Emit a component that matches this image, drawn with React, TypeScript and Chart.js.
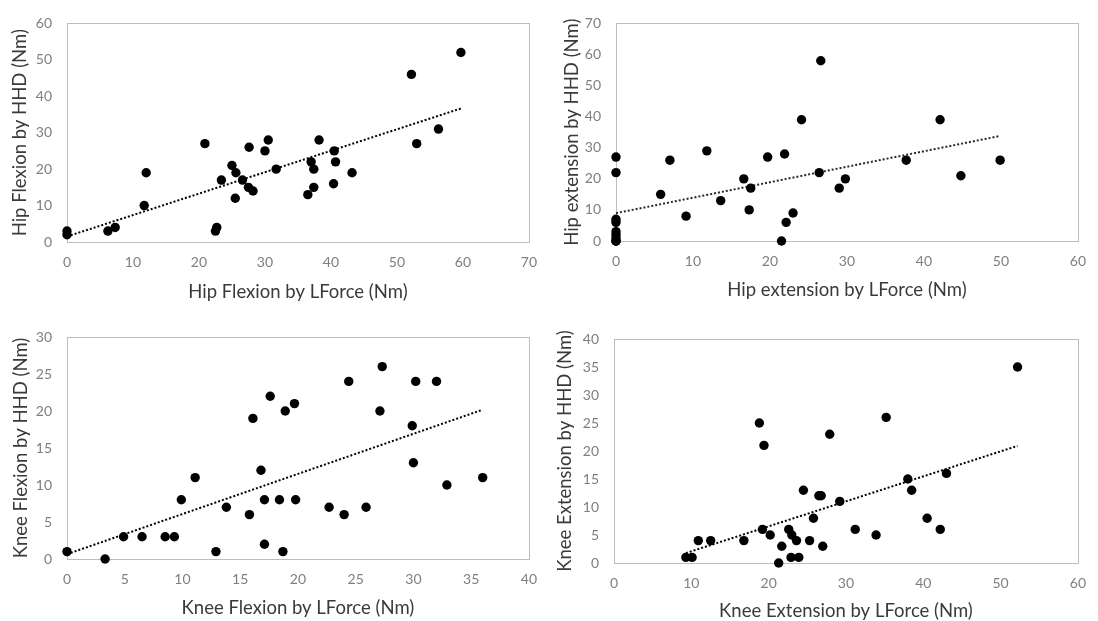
import React, { useEffect, useRef } from 'react';
import { Chart, registerables } from 'chart.js';
Chart.register(...registerables);

const FONT = 'Lato, "Open Sans", sans-serif';

// ---- Data ----
const hipFlexLForce = [0, 0, 6.2, 7.3, 11.7, 12, 20.9, 22.5, 22.7, 23.4, 25, 25.6, 25.5, 26.6, 27.6, 27.5, 28.2, 30, 30.5, 31.7, 38.2, 40.5, 40.7, 37, 37.4, 37.4, 36.5, 40.4, 43.2, 52.2, 59.7, 56.3, 53];
const hipFlexHHD = [3, 2, 3, 4, 10, 19, 27, 3, 4, 17, 21, 19, 12, 17, 26, 15, 14, 25, 28, 20, 28, 25, 22, 22, 20, 15, 13, 16, 19, 46, 52, 31, 27];

const hipExtLForce = [0, 0, 0, 0, 0, 0, 0, 0, 0, 0, 5.8, 7, 9.1, 11.8, 13.6, 16.6, 17.5, 17.3, 19.7, 21.9, 21.5, 22.1, 23, 24.1, 26.4, 26.6, 29, 29.8, 37.7, 42.1, 44.8, 49.9];
const hipExtHHD = [27, 22, 7, 6, 3, 2, 1, 0, 0, 0, 15, 26, 8, 29, 13, 20, 17, 10, 27, 28, 0, 6, 9, 39, 22, 58, 17, 20, 26, 39, 21, 26];

const kneeFlexLForce = [0, 3.3, 4.9, 6.5, 8.5, 9.3, 9.9, 11.1, 12.9, 13.8, 15.8, 16.1, 16.8, 17.1, 17.1, 17.6, 18.4, 19.8, 18.9, 19.7, 18.7, 22.7, 24, 24.4, 25.9, 27.3, 27.1, 30.2, 32, 29.9, 30, 32.9, 36];
const kneeFlexHHD = [1, 0, 3, 3, 3, 3, 8, 11, 1, 7, 6, 19, 12, 8, 2, 22, 8, 8, 20, 21, 1, 7, 6, 24, 7, 26, 20, 24, 24, 18, 13, 10, 11];

const kneeExtLForce = [9.3, 10.1, 10.9, 12.5, 16.8, 18.8, 19.4, 19.2, 20.2, 21.7, 21.3, 22.6, 23, 23.6, 22.9, 23.9, 24.5, 25.3, 25.8, 26.5, 26.8, 27, 27.9, 29.2, 31.2, 33.9, 35.2, 38, 38.5, 40.5, 42.2, 43, 52.2];
const kneeExtHHD = [1, 1, 4, 4, 4, 25, 21, 6, 5, 3, 0, 6, 5, 4, 1, 1, 13, 4, 8, 12, 12, 3, 23, 11, 6, 5, 26, 15, 13, 8, 6, 16, 35];

const xTitles = ['Hip Flexion by LForce (Nm)', 'Hip extension by LForce (Nm)', 'Knee Flexion by LForce (Nm)', 'Knee Extension by LForce (Nm)'];
const yTitles = ['Hip Flexion by HHD (Nm)', 'Hip extension by HHD (Nm)', 'Knee Flexion by HHD (Nm)', 'Knee Extension by HHD (Nm)'];
const xMax = [70, 60, 40, 60];
const xStep = [10, 10, 5, 10];
const yMax = [60, 70, 30, 40];
const yStep = [10, 10, 5, 5];

type Layout = {
  left: number; top: number; width: number; height: number;
  yAxisW: number; padTop: number; padRight: number; xAxisH: number;
  xTitleOff: number; yTitleOff: number; trendColor: string;
};

const layouts: Layout[] = [
  { left: 0, top: 0, width: 549, height: 310, yAxisW: 67, padTop: 19, padRight: 16, xAxisH: 68, xTitleOff: 18.3, yTitleOff: 20, trendColor: '#000000' },
  { left: 549, top: 0, width: 549, height: 310, yAxisW: 67, padTop: 19, padRight: 16, xAxisH: 69, xTitleOff: 20, yTitleOff: 22.7, trendColor: '#1c2a3a' },
  { left: 0, top: 310, width: 549, height: 311, yAxisW: 67, padTop: 27, padRight: 16, xAxisH: 62, xTitleOff: 13, yTitleOff: 20.7, trendColor: '#000000' },
  { left: 549, top: 310, width: 549, height: 311, yAxisW: 65, padTop: 29, padRight: 14, xAxisH: 58, xTitleOff: 9.5, yTitleOff: 16, trendColor: '#000000' },
];

const seriesX = [hipFlexLForce, hipExtLForce, kneeFlexLForce, kneeExtLForce];
const seriesY = [hipFlexHHD, hipExtHHD, kneeFlexHHD, kneeExtHHD];

const TITLE_SIZE = 18.5;
const TITLE_HALF = (TITLE_SIZE * 1.2) / 2;

function linReg(xs: number[], ys: number[]) {
  const n = xs.length;
  const mx = xs.reduce((a, b) => a + b, 0) / n;
  const my = ys.reduce((a, b) => a + b, 0) / n;
  let sxy = 0, sxx = 0;
  for (let i = 0; i < n; i++) {
    sxy += (xs[i] - mx) * (ys[i] - my);
    sxx += (xs[i] - mx) * (xs[i] - mx);
  }
  const m = sxy / sxx;
  return { m, b: my - m * mx };
}

const boxPlugin = {
  id: 'boxBorder',
  beforeDatasetsDraw(chart: any) {
    const { ctx, chartArea } = chart;
    const { left, top, right, bottom } = chartArea;
    ctx.save();
    ctx.strokeStyle = '#bdbdbd';
    ctx.lineWidth = 1;
    ctx.strokeRect(Math.round(left) + 0.5, Math.round(top) + 0.5, Math.round(right - left), Math.round(bottom - top));
    ctx.restore();
  },
};

function Panel({ idx }: { idx: number }) {
  const ref = useRef<HTMLCanvasElement>(null);
  const L = layouts[idx];
  useEffect(() => {
    const xs = seriesX[idx];
    const ys = seriesY[idx];
    const { m, b } = linReg(xs, ys);
    const minX = Math.min(...xs);
    const maxX = Math.max(...xs);
    const pts = xs.map((x, i) => ({ x, y: ys[i] }));
    const trend = [{ x: minX, y: b + m * minX }, { x: maxX, y: b + m * maxX }];
    const tickFont = { family: FONT, size: 14 };
    const titleFont = { family: FONT, size: TITLE_SIZE };
    const chart = new Chart(ref.current as HTMLCanvasElement, {
      type: 'scatter',
      data: {
        datasets: [
          {
            data: pts,
            backgroundColor: '#000',
            borderColor: '#000',
            pointRadius: 4.7,
            pointBorderWidth: 0,
            order: 0,
            clip: false,
          } as any,
          {
            type: 'line',
            data: trend,
            borderColor: L.trendColor,
            borderWidth: 2,
            borderDash: [2, 2],
            pointRadius: 0,
            fill: false,
            order: 1,
            clip: false,
          } as any,
        ],
      },
      options: {
        animation: false,
        responsive: true,
        maintainAspectRatio: false,
        layout: { padding: { top: L.padTop, right: L.padRight, left: 0, bottom: 0 } },
        plugins: { legend: { display: false }, tooltip: { enabled: false } },
        scales: {
          x: {
            type: 'linear',
            min: 0,
            max: xMax[idx],
            afterFit: (s: any) => { s.height = L.xAxisH; },
            grid: { display: false, drawTicks: false },
            border: { display: false },
            ticks: { stepSize: xStep[idx], color: '#7f7f7f', font: tickFont, padding: 12 },
            title: {
              display: true,
              text: xTitles[idx],
              color: '#3a3a3a',
              font: titleFont,
              padding: { top: 0, bottom: L.xTitleOff - TITLE_HALF },
            },
          },
          y: {
            type: 'linear',
            min: 0,
            max: yMax[idx],
            afterFit: (s: any) => { s.width = L.yAxisW; },
            grid: { display: false, drawTicks: false },
            border: { display: false },
            ticks: { stepSize: yStep[idx], color: '#7f7f7f', font: tickFont, padding: 15 },
            title: {
              display: true,
              text: yTitles[idx],
              color: '#3a3a3a',
              font: titleFont,
              padding: { top: L.yTitleOff - TITLE_HALF, bottom: 0 },
            },
          },
        },
      } as any,
      plugins: [boxPlugin],
    });
    return () => chart.destroy();
  }, []);
  return (
    <div style={{ position: 'absolute', left: L.left, top: L.top, width: L.width, height: L.height }}>
      <canvas ref={ref} />
    </div>
  );
}

export default function App() {
  return (
    <div style={{ position: 'absolute', left: 0, top: 0, width: 1098, height: 621, background: '#fff', overflow: 'hidden' }}>
      {[0, 1, 2, 3].map((i) => (
        <Panel key={i} idx={i} />
      ))}
    </div>
  );
}
